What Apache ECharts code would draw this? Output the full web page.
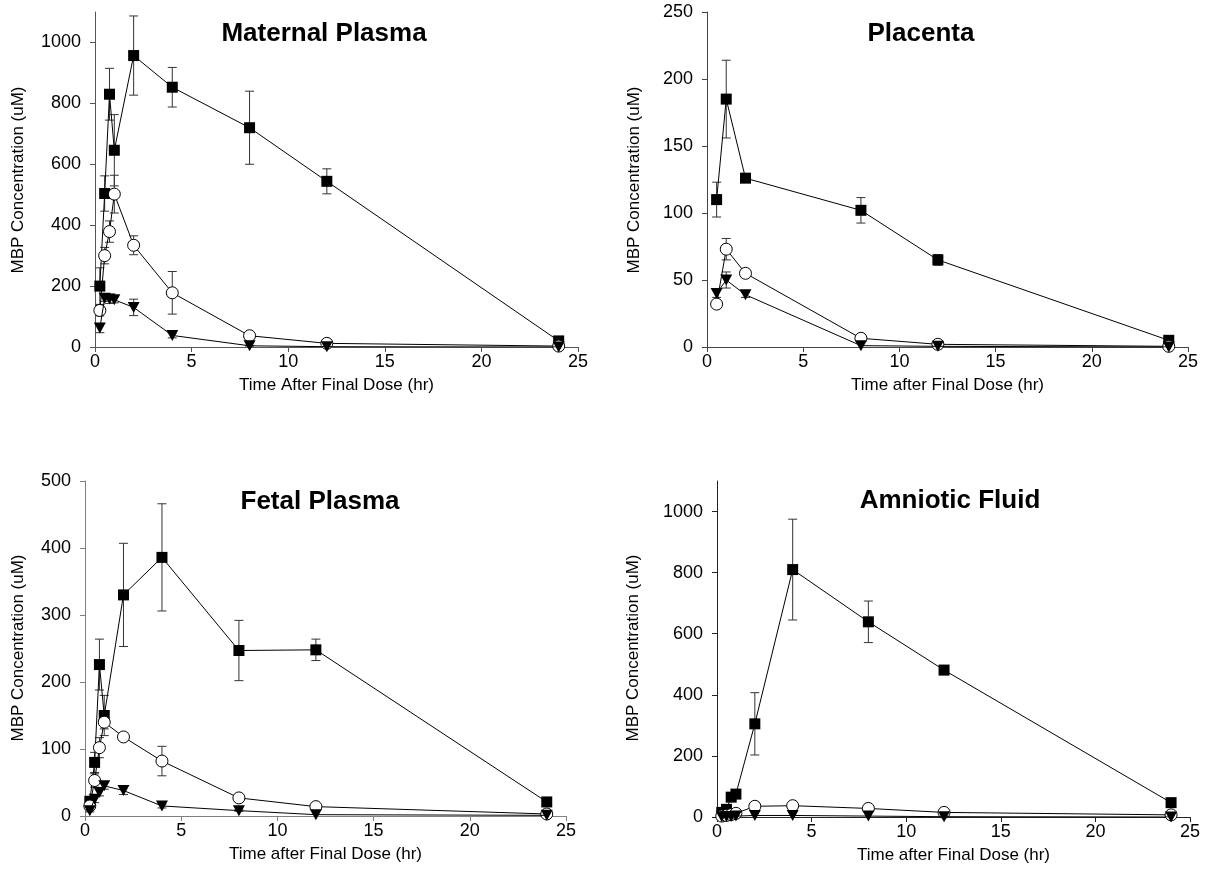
<!DOCTYPE html>
<html><head><meta charset="utf-8">
<script src="https://cdn.jsdelivr.net/npm/echarts@6/dist/echarts.min.js"></script>
<style>html,body{margin:0;padding:0;background:#fff}#c{width:1215px;height:888px}</style>
</head><body><div id="c"></div>
<script>
// ---------- text ----------
const panelTitles = ['Maternal Plasma', 'Placenta', 'Fetal Plasma', 'Amniotic Fluid'];
const xAxisNames = ['Time After Final Dose (hr)', 'Time after Final Dose (hr)', 'Time after Final Dose (hr)', 'Time after Final Dose (hr)'];
const yAxisName = 'MBP Concentration (uM)';

// ---------- ticks ----------
const xTicks = [0, 5, 10, 15, 20, 25];
const yTicksMaternal = [0, 200, 400, 600, 800, 1000];
const yMaxMaternal = 1100;
const yTicksPlacenta = [0, 50, 100, 150, 200, 250];
const yMaxPlacenta = 250;
const yTicksFetal = [0, 100, 200, 300, 400, 500];
const yMaxFetal = 500;
const yTicksAmniotic = [0, 200, 400, 600, 800, 1000];
const yMaxAmniotic = 1100;

// ---------- data: Maternal Plasma ----------
const maternalTime = [0.25, 0.5, 0.75, 1, 2, 4, 8, 12, 24];
const maternalSquare = [200, 504, 830, 646, 957, 853, 720, 544, 20];
const maternalSquareErr = [60, 58, 85, 117, 130, 65, 120, 41, 5];
const maternalCircle = [120, 300, 379, 502, 334, 178, 37, 12, 3];
const maternalCircleErr = [18, 27, 35, 62, 31, 70, 5, 3, 1];
const maternalTriangle = [62, 160, 158, 155, 130, 38, 4, 1, 0];
const maternalTriangleErr = [15, 10, 15, 10, 27, 8, 1, 0, 0];

// ---------- data: Placenta ----------
const placentaTime = [0.5, 1, 2, 8, 12, 24];
const placentaSquare = [110, 185, 126, 102, 65, 5];
const placentaSquareErr = [13, 29, 2, 9.5, 4, 1];
const placentaCircle = [32, 73, 55, 6.5, 2, 0.5];
const placentaCircleErr = [0, 8, 3, 1, 0.5, 0];
const placentaTriangle = [40, 50, 39, 1, 0.5, 0];
const placentaTriangleErr = [3, 6, 2, 0, 0, 0];

// ---------- data: Fetal Plasma ----------
const fetalTime = [0.25, 0.5, 0.75, 1, 2, 4, 8, 12, 24];
const fetalSquare = [22, 80, 226, 150, 330, 386, 247, 248, 21];
const fetalSquareErr = [5, 15, 38, 30, 77, 80, 45, 16, 3];
const fetalCircle = [15, 53, 102, 140, 118, 82, 27, 14, 3];
const fetalCircleErr = [5, 10, 15, 10, 5, 22, 4, 2, 0];
const fetalTriangle = [8, 25, 35, 45, 38, 15, 8, 2, 1];
const fetalTriangleErr = [2, 5, 5, 5, 6, 3, 1, 0, 0];

// ---------- data: Amniotic Fluid ----------
const amnioticTime = [0.25, 0.5, 0.75, 1, 2, 4, 8, 12, 24];
const amnioticSquare = [15, 25, 65, 75, 305, 810, 639, 481, 47];
const amnioticSquareErr = [3, 5, 10, 10, 102, 165, 68, 15, 5];
const amnioticCircle = [3, 5, 8, 12, 35, 37, 28, 15, 7];
const amnioticCircleErr = [0, 0, 0, 0, 3, 3, 2, 1, 0];
const amnioticTriangle = [1, 2, 2, 3, 5, 5, 3, 1, 0];
const amnioticTriangleErr = [0, 0, 0, 0, 0, 0, 0, 0, 0];

// ---------- build ----------
const FONT = 'Arial, "Liberation Sans", Helvetica, sans-serif';
const panels = [
  {time: maternalTime, sq: maternalSquare, sqE: maternalSquareErr, ci: maternalCircle, ciE: maternalCircleErr, tr: maternalTriangle, trE: maternalTriangleErr, yTicks: yTicksMaternal, yMax: yMaxMaternal,
   grid: {left: 95, top: 12, width: 483, height: 335}, axisColor: '#555', title: [324, 34], yName: [18, 180]},
  {time: placentaTime, sq: placentaSquare, sqE: placentaSquareErr, ci: placentaCircle, ciE: placentaCircleErr, tr: placentaTriangle, trE: placentaTriangleErr, yTicks: yTicksPlacenta, yMax: yMaxPlacenta,
   grid: {left: 707, top: 12, width: 481, height: 335}, axisColor: '#444', title: [921, 34], yName: [634, 180]},
  {time: fetalTime, sq: fetalSquare, sqE: fetalSquareErr, ci: fetalCircle, ciE: fetalCircleErr, tr: fetalTriangle, trE: fetalTriangleErr, yTicks: yTicksFetal, yMax: yMaxFetal,
   grid: {left: 85, top: 481, width: 481, height: 335}, axisColor: '#808080', title: [320, 502], yName: [18, 648]},
  {time: amnioticTime, sq: amnioticSquare, sqE: amnioticSquareErr, ci: amnioticCircle, ciE: amnioticCircleErr, tr: amnioticTriangle, trE: amnioticTriangleErr, yTicks: yTicksAmniotic, yMax: yMaxAmniotic,
   grid: {left: 717, top: 481, width: 473, height: 336}, axisColor: '#222', title: [950, 501], yName: [633, 648]}
];

function errSeries(idx, xs, ys, es) {
  const data = [];
  xs.forEach((x, i) => { if (es[i] > 0) data.push([x, Math.max(0, ys[i] - es[i]), ys[i] + es[i]]); });
  return {
    type: 'custom', xAxisIndex: idx, yAxisIndex: idx, data, z: 1, silent: true, animation: false,
    encode: {x: 0, y: [1, 2]},
    renderItem(params, api) {
      const x = api.value(0);
      const lo = api.coord([x, api.value(1)]);
      const hi = api.coord([x, api.value(2)]);
      const w = 4.5;
      const st = {stroke: '#333', lineWidth: 1};
      return {type: 'group', children: [
        {type: 'line', shape: {x1: lo[0], y1: lo[1], x2: hi[0], y2: hi[1]}, style: st},
        {type: 'line', shape: {x1: lo[0] - w, y1: lo[1], x2: lo[0] + w, y2: lo[1]}, style: st},
        {type: 'line', shape: {x1: hi[0] - w, y1: hi[1], x2: hi[0] + w, y2: hi[1]}, style: st}
      ]};
    }
  };
}
function lineSeries(idx, xs, ys, symbol, size, rotate, fill, border, z) {
  return {
    type: 'line', xAxisIndex: idx, yAxisIndex: idx, data: xs.map((x, i) => [x, ys[i]]),
    symbol, symbolSize: size, symbolRotate: rotate, showSymbol: true, showAllSymbol: true,
    lineStyle: {color: '#000', width: 1},
    itemStyle: {color: fill, borderColor: '#000', borderWidth: border},
    z, animation: false, silent: true, emphasis: {disabled: true}
  };
}

const grids = [], xAxes = [], yAxes = [], series = [], graphics = [];
panels.forEach((p, i) => {
  grids.push(Object.assign({containLabel: false, outerBoundsMode: 'none'}, p.grid));
  xAxes.push({
    type: 'value', gridIndex: i, min: xTicks[0], max: xTicks[xTicks.length - 1], interval: xTicks[1] - xTicks[0],
    name: xAxisNames[i], nameLocation: 'middle', nameGap: 30,
    nameTextStyle: {fontSize: 17, fontFamily: FONT, color: '#000'},
    axisLine: {show: true, onZero: false, lineStyle: {color: p.axisColor, width: 1}},
    axisTick: {show: true, inside: false, length: 5, lineStyle: {color: p.axisColor}},
    axisLabel: {fontSize: 18, fontFamily: FONT, color: '#000', margin: 6, formatter: v => String(v)},
    splitLine: {show: false}
  });
  const yInt = p.yTicks[1] - p.yTicks[0];
  yAxes.push({
    type: 'value', gridIndex: i, min: 0, max: p.yMax, interval: yInt,
    axisLine: {show: true, onZero: false, lineStyle: {color: p.axisColor, width: 1}},
    axisTick: {show: true, inside: false, length: 5, lineStyle: {color: p.axisColor}, customValues: p.yTicks},
    axisLabel: {fontSize: 18, fontFamily: FONT, color: '#000', margin: 14, customValues: p.yTicks, formatter: v => String(v)},
    splitLine: {show: false}
  });
  series.push(errSeries(i, p.time, p.sq, p.sqE));
  series.push(errSeries(i, p.time, p.ci, p.ciE));
  series.push(errSeries(i, p.time, p.tr, p.trE));
  series.push(lineSeries(i, p.time, p.sq, 'rect', 11, 0, '#000', 0, 2));
  series.push(lineSeries(i, p.time, p.ci, 'circle', 12, 0, '#fff', 1, 3));
  series.push(lineSeries(i, p.time, p.tr, 'triangle', [12, 11], 180, '#000', 0, 4));
  graphics.push({
    type: 'text', x: p.title[0], y: p.title[1],
    style: {text: panelTitles[i], font: 'bold 26px ' + FONT, fill: '#000', align: 'center', verticalAlign: 'middle', textAlign: 'center', textVerticalAlign: 'middle'}
  });
  graphics.push({
    type: 'text', x: p.yName[0], y: p.yName[1], rotation: Math.PI / 2,
    style: {text: yAxisName, font: '17px ' + FONT, fill: '#000', align: 'center', verticalAlign: 'middle', textAlign: 'center', textVerticalAlign: 'middle'}
  });
});

const chart = echarts.init(document.getElementById('c'), null, {renderer: 'canvas'});
chart.setOption({
  animation: false,
  backgroundColor: '#fff',
  grid: grids, xAxis: xAxes, yAxis: yAxes, series,
  graphic: {elements: graphics}
});
</script>
</body></html>
